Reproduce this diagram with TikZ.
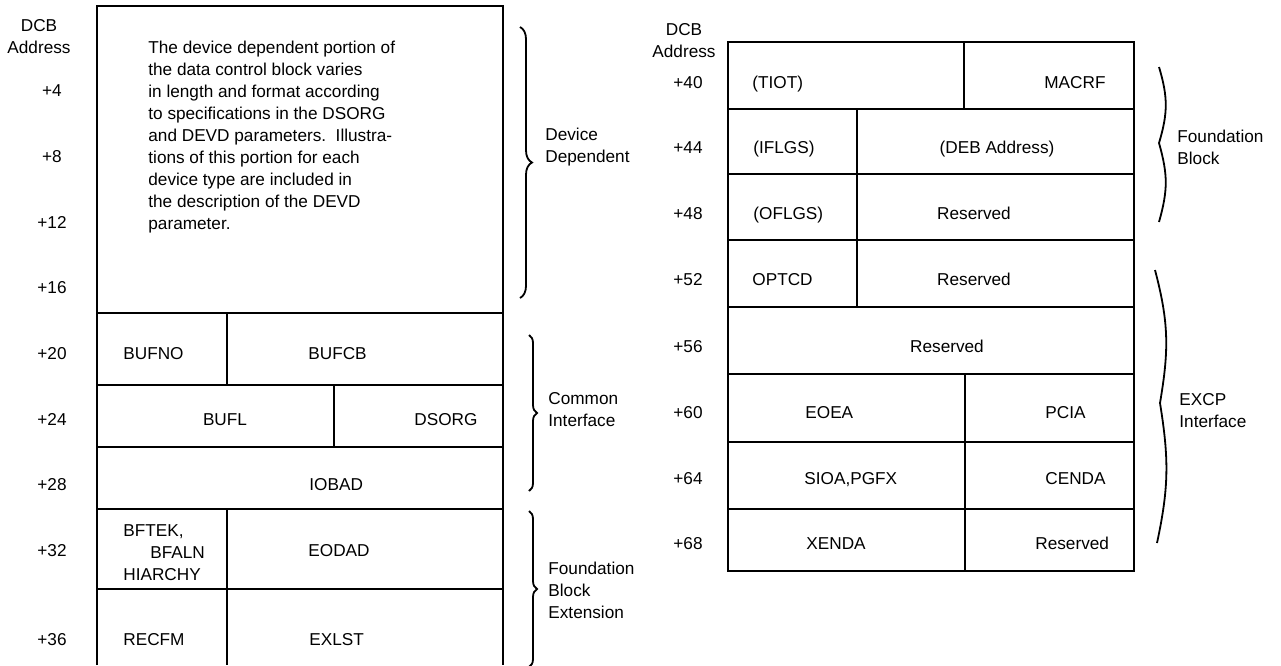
\documentclass[tikz,border=0pt]{standalone}
\usepackage{fontspec}
\setmainfont{Liberation Sans}
\usetikzlibrary{decorations.pathreplacing}

\begin{document}
\begin{tikzpicture}[x=0.5pt, y=-0.5pt,
    every node/.style={font=\fontsize{8.6}{11}\selectfont, inner sep=0pt},
    fld/.style={anchor=base west},
    cfld/.style={anchor=base},
    offs/.style={anchor=base},
    hdr/.style={anchor=north, align=center},
    para/.style={anchor=north west, align=left},
    rule/.style={line width=1pt},
    brc/.style={line width=0.9pt, decorate, decoration={brace, amplitude=#1}},
    brc/.default=4pt,
    hand/.style={line width=0.9pt},
  ]
    \useasboundingbox (0,0) rectangle (1281,665);

    % left block, +0 to +36
    \draw[rule] (97,665) -- (97,6) -- (503,6) -- (503,665);
    \foreach \yy in {313,385,447,509,589}
      \draw[rule] (97,\yy) -- (503,\yy);
    \draw[rule] (227,313) -- (227,385);
    \draw[rule] (334,385) -- (334,447);
    \draw[rule] (227,509) -- (227,665);

    \node[hdr] (hdrL) at (39,19) {DCB\\Address};
    \foreach \off/\yy in {4/96,8/162,12/228,16/293,20/359,24/425,28/490,32/556,36/645}
      \node[offs] (offL\off) at (52,\yy) {+\off};

    \node[para] (devtext) at (148,41) {The device dependent portion of\\
      the data control block varies\\
      in length and format according\\
      to specifications in the DSORG\\
      and DEVD parameters.\ \ Illustra-\\
      tions of this portion for each\\
      device type are included in\\
      the description of the DEVD\\
      parameter.};

    \node[fld]  (bufno) at (123,359) {BUFNO};
    \node[fld]  (bufcb) at (308,359) {BUFCB};
    \node[cfld] (bufl)  at (225,425) {BUFL};
    \node[fld]  (dsorg) at (414,425) {DSORG};
    \node[fld]  (iobad) at (309,490) {IOBAD};
    \node[para] (bftek) at (123,524) {BFTEK,\\\hspace*{13.5pt}BFALN\\HIARCHY};
    \node[fld]  (eodad) at (308,556) {EODAD};
    \node[fld]  (recfm) at (123,645) {RECFM};
    \node[fld]  (exlst) at (309,645) {EXLST};

    \draw[brc=6pt] (520,27) -- (520,298);
    \node[para] (devdep) at (545,128) {Device\\Dependent};
    \draw[brc] (529,335) -- (529,491);
    \node[para] (comint) at (548,392) {Common\\Interface};
    \draw[brc] (529,511) -- (529,667);
    \node[para] (fbext) at (548,562) {Foundation\\Block\\Extension};

    % right block, +40 to +68
    \draw[rule] (728,42) rectangle (1134,571);
    \foreach \yy in {109,174,240,307,374,442,509}
      \draw[rule] (728,\yy) -- (1134,\yy);
    \draw[rule] (964,42) -- (964,109);
    \draw[rule] (857,109) -- (857,307);
    \draw[rule] (965,374) -- (965,571);

    \node[hdr] (hdrR) at (684,23) {DCB\\Address};
    \foreach \off/\yy in {40/88,44/153,48/219,52/285,56/352,60/418,64/484,68/549}
      \node[offs] (offR\off) at (688,\yy) {+\off};

    \node[fld]  (tiot)  at (752,88)   {(TIOT)};
    \node[fld]  (macrf) at (1044,88)  {MACRF};
    \node[fld]  (iflgs) at (753,153)  {(IFLGS)};
    \node[cfld] (deb)   at (997,153)  {(DEB Address)};
    \node[fld]  (oflgs) at (753,219)  {(OFLGS)};
    \node[cfld] (resa)  at (974,219)  {Reserved};
    \node[fld]  (optcd) at (752,285)  {OPTCD};
    \node[cfld] (resb)  at (974,285)  {Reserved};
    \node[cfld] (resc)  at (947,352)  {Reserved};
    \node[fld]  (eoea)  at (805,418)  {EOEA};
    \node[fld]  (pcia)  at (1045,418) {PCIA};
    \node[fld]  (sioa)  at (804,484)  {SIOA,PGFX};
    \node[fld]  (cenda) at (1045,484) {CENDA};
    \node[fld]  (xenda) at (806,549)  {XENDA};
    \node[fld]  (resd)  at (1035,549) {Reserved};

    \draw[hand] (1159,67) .. controls (1168,97) and (1168,113) .. (1159,143)
      .. controls (1168,175) and (1168,190) .. (1159,222);
    \node[para] (fblock) at (1177,130) {Foundation\\Block};
    \draw[hand] (1155,270) .. controls (1169,323) and (1169,350) .. (1160,403)
      .. controls (1169,459) and (1169,487) .. (1157,543);
    \node[para] (excp) at (1179,393) {EXCP\\Interface};
  \end{tikzpicture}
\end{document}
